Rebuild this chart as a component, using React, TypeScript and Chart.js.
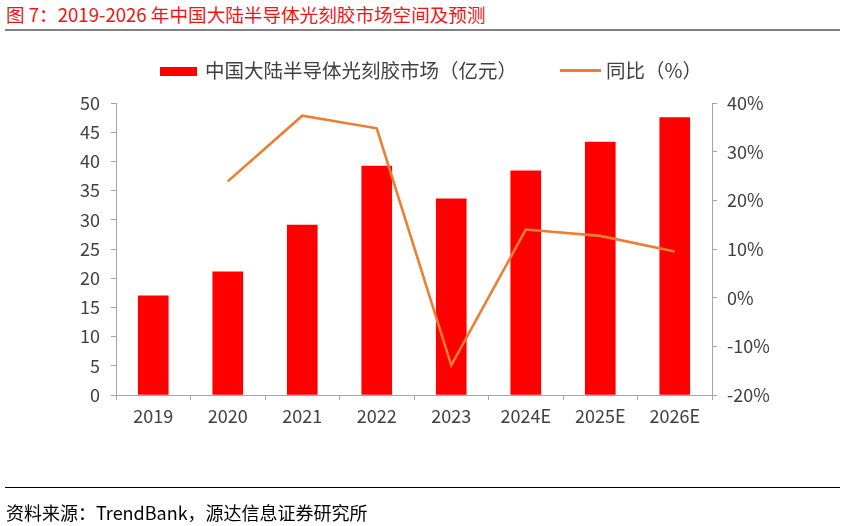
import React, { useEffect, useRef } from "react";
import { Chart, registerables } from "chart.js";

Chart.register(...registerables);

// Years on the category axis
const categories = ["2019", "2020", "2021", "2022", "2023", "2024E", "2025E", "2026E"];
// Mainland China semiconductor photoresist market size, 亿元
const marketSize = [17.0, 21.1, 29.1, 39.2, 33.6, 38.4, 43.3, 47.5];
// Year-over-year growth, %
const yoyGrowth = [null, 23.9, 37.4, 34.8, -13.9, 14.0, 12.7, 9.5];

const titleText = "图 7：2019-2026 年中国大陆半导体光刻胶市场空间及预测";
const barLabel = "中国大陆半导体光刻胶市场（亿元）";
const lineLabel = "同比（%）";
const sourceText = "资料来源：TrendBank，源达信息证券研究所";

const BAR_COLOR = "#FF0000";
const LINE_COLOR = "#ED7D31";
const AXIS_COLOR = "#A6A6A6";
const TEXT_COLOR = "#404040";
const FONT = "'Noto Sans CJK SC', 'Noto Sans', sans-serif";

export default function App() {
  const canvasRef = useRef<HTMLCanvasElement | null>(null);

  useEffect(() => {
    const canvas = canvasRef.current;
    if (!canvas) return;
    const tickFont = { family: FONT, size: 18 };
    const chart = new Chart(canvas, {
      type: "bar",
      data: {
        labels: categories,
        datasets: [
          {
            type: "line",
            label: lineLabel,
            data: yoyGrowth,
            yAxisID: "y1",
            borderColor: LINE_COLOR,
            backgroundColor: LINE_COLOR,
            borderWidth: 2.6,
            pointRadius: 0,
            tension: 0,
            order: 0,
          },
          {
            type: "bar",
            label: barLabel,
            data: marketSize,
            yAxisID: "y",
            backgroundColor: BAR_COLOR,
            barThickness: 30,
            order: 1,
          },
        ],
      },
      options: {
        responsive: false,
        animation: false,
        devicePixelRatio: 1,
        layout: { padding: { top: 103, left: 0, right: 0, bottom: 0 } },
        plugins: {
          legend: { display: false },
          title: { display: false },
          tooltip: { enabled: false },
        },
        scales: {
          x: {
            type: "category",
            offset: true,
            grid: {
              offset: true,
              drawOnChartArea: false,
              drawTicks: true,
              tickLength: 5,
              tickColor: AXIS_COLOR,
            },
            border: { display: true, color: AXIS_COLOR, width: 1 },
            ticks: { font: tickFont, color: TEXT_COLOR, padding: 5, maxRotation: 0 },
            afterFit: (scale: any) => {
              scale.height = 526 - 395;
            },
          },
          y: {
            type: "linear",
            position: "left",
            min: 0,
            max: 50,
            grid: {
              drawOnChartArea: false,
              drawTicks: true,
              tickLength: 5,
              tickColor: AXIS_COLOR,
            },
            border: { display: true, color: AXIS_COLOR, width: 1 },
            ticks: { stepSize: 5, font: tickFont, color: TEXT_COLOR, padding: 11 },
            afterFit: (scale: any) => {
              scale.width = 116;
            },
          },
          y1: {
            type: "linear",
            position: "right",
            min: -20,
            max: 40,
            grid: {
              drawOnChartArea: false,
              drawTicks: true,
              tickLength: 5,
              tickColor: AXIS_COLOR,
            },
            border: { display: true, color: AXIS_COLOR, width: 1 },
            ticks: {
              stepSize: 10,
              font: tickFont,
              color: TEXT_COLOR,
              padding: 10,
              callback: (v: any) => `${v}%`,
            },
            afterFit: (scale: any) => {
              scale.width = 847 - 712;
            },
          },
        },
      },
    });
    return () => chart.destroy();
  }, []);

  const abs = (style: React.CSSProperties): React.CSSProperties => ({
    position: "absolute",
    ...style,
  });

  return (
    <div
      style={{
        position: "fixed",
        left: 0,
        top: 0,
        width: 847,
        height: 526,
        background: "#fff",
        fontFamily: FONT,
        overflow: "hidden",
      }}
    >
      <div
        style={abs({
          left: 6,
          top: 1,
          fontSize: 18.6,
          lineHeight: "26px",
          color: "#F01414",
          whiteSpace: "nowrap",
        })}
      >
        {titleText}
      </div>
      <div style={abs({ left: 5, top: 29, width: 835, height: 2, background: "#808080" })} />

      <canvas
        ref={canvasRef}
        width={847}
        height={526}
        style={abs({ left: 0, top: 0, width: 847, height: 526 })}
      />

      {/* legend */}
      <div style={abs({ left: 160, top: 66.5, width: 37, height: 9, background: BAR_COLOR })} />
      <div
        style={abs({
          left: 205,
          top: 57,
          fontSize: 19.5,
          lineHeight: "26px",
          color: TEXT_COLOR,
          whiteSpace: "nowrap",
        })}
      >
        {barLabel}
      </div>
      <div style={abs({ left: 560, top: 69, width: 41, height: 3, background: LINE_COLOR })} />
      <div
        style={abs({
          left: 606,
          top: 57,
          fontSize: 19.5,
          lineHeight: "26px",
          color: TEXT_COLOR,
          whiteSpace: "nowrap",
        })}
      >
        {lineLabel}
      </div>

      <div style={abs({ left: 5, top: 487, width: 835, height: 1, background: "#000" })} />
      <div
        style={abs({
          left: 6,
          top: 499,
          fontSize: 18,
          lineHeight: "26px",
          color: "#000",
          whiteSpace: "nowrap",
        })}
      >
        {sourceText}
      </div>
    </div>
  );
}
